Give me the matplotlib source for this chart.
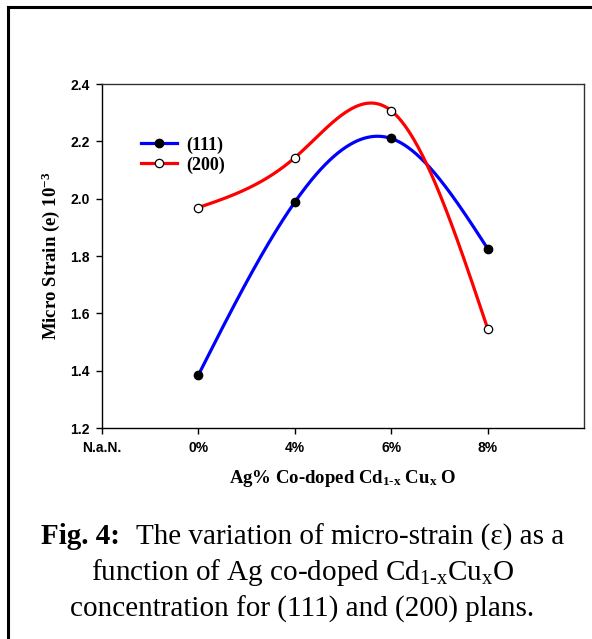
import numpy as np
import matplotlib
matplotlib.use("Agg")
from matplotlib import pyplot as plt
from matplotlib.lines import Line2D

plt.rcParams["mathtext.fontset"] = "custom"
plt.rcParams["mathtext.rm"] = "Liberation Serif"
plt.rcParams["mathtext.bf"] = "Liberation Serif:bold"
plt.rcParams["mathtext.it"] = "Liberation Serif:italic"

# Ag doping levels, first slot is the undoped reference column
categories = ["N.a.N.", "0%", "4%", "6%", "8%"]
x_pos = [1, 2, 3, 4]
strain_111 = [1.385, 1.988, 2.210, 1.826]
strain_200 = [1.969, 2.143, 2.307, 1.547]
y_ticks = [1.2, 1.4, 1.6, 1.8, 2.0, 2.2, 2.4]


def natural_spline(x, y, n=200):
    # natural cubic spline through the measured points
    x = np.asarray(x, float)
    y = np.asarray(y, float)
    k = len(x)
    h = np.diff(x)
    a = np.zeros((k, k))
    b = np.zeros(k)
    a[0, 0] = a[-1, -1] = 1
    for i in range(1, k - 1):
        a[i, i - 1] = h[i - 1]
        a[i, i] = 2 * (h[i - 1] + h[i])
        a[i, i + 1] = h[i]
        b[i] = 3 * ((y[i + 1] - y[i]) / h[i] - (y[i] - y[i - 1]) / h[i - 1])
    c = np.linalg.solve(a, b)
    xs = np.linspace(x[0], x[-1], n)
    ys = np.empty_like(xs)
    for j, xv in enumerate(xs):
        i = min(np.searchsorted(x, xv, side="right") - 1, k - 2)
        dx = xv - x[i]
        bi = (y[i + 1] - y[i]) / h[i] - h[i] * (2 * c[i] + c[i + 1]) / 3
        di = (c[i + 1] - c[i]) / (3 * h[i])
        ys[j] = y[i] + bi * dx + c[i] * dx ** 2 + di * dx ** 3
    return xs, ys


fig = plt.figure(figsize=(5.92, 6.39), dpi=100)
ax = fig.add_axes([0.1723, 0.3302, 0.8142, 0.5383])

sx, sy = natural_spline(x_pos, strain_111)
ax.plot(sx, sy, color="#0000ff", lw=2.3, zorder=2)
sx, sy = natural_spline(x_pos, strain_200)
ax.plot(sx, sy, color="#ff0000", lw=2.3, zorder=2)
ax.plot(x_pos, strain_111, "o", ms=6, mfc="black", mec="black", zorder=3)
ax.plot(x_pos, strain_200, "o", ms=6, mfc="white", mec="black", mew=0.9, zorder=3)

ax.set_xlim(0, 5)
ax.set_ylim(1.2, 2.4)
ax.set_xticks(range(len(categories)))
ax.set_xticklabels(categories)
ax.set_yticks(y_ticks)
ax.set_yticklabels(["%.1f" % v for v in y_ticks])
ax.tick_params(direction="out", length=4, width=1, pad=5)
for lab in ax.get_xticklabels() + ax.get_yticklabels():
    lab.set_fontfamily("Liberation Sans")
    lab.set_fontweight("bold")
    lab.set_fontsize(10)
for s in ax.spines.values():
    s.set_linewidth(1)
ax.spines["top"].set_color("#333333")
ax.spines["right"].set_color("#333333")

ax.set_xlabel(r"Ag% Co-doped Cd$_{\mathbf{1\text{-}x}}$ Cu$_{\mathbf{x}}$ O",
              fontfamily="Liberation Serif", fontweight="bold", fontsize=13.5, labelpad=10)
ax.set_ylabel(r"Micro Strain (e) 10$^{\mathbf{-3}}$",
              fontfamily="Liberation Serif", fontweight="bold", fontsize=13.5, labelpad=6)

handles = [
    Line2D([], [], color="#0000ff", lw=2.3, marker="o", ms=6, mfc="black", mec="black"),
    Line2D([], [], color="#ff0000", lw=2.3, marker="o", ms=6, mfc="white", mec="black", mew=0.9),
]
ax.legend(handles, ["(111)", "(200)"], loc="upper left", bbox_to_anchor=(0.047, 0.895),
          frameon=False, handlelength=2.0, handletextpad=0.5, labelspacing=0.15,
          prop={"family": "Liberation Serif", "weight": "bold", "size": 13})

# page frame around the figure
fig.add_artist(Line2D([7.5 / 592, 7.5 / 592], [1 - 6.5 / 639, 0], color="black", lw=2.2,
                      transform=fig.transFigure))
fig.add_artist(Line2D([7.5 / 592, 1], [1 - 6.5 / 639, 1 - 6.5 / 639], color="black", lw=2.2,
                      transform=fig.transFigure))

cap = {"va": "center", "fontfamily": "Liberation Serif", "fontsize": 21}
cx = 0.511
# first caption line: bold figure number followed by regular text
t_bold = fig.text(0, 1 - 537 / 639, "Fig. 4:", fontweight="bold", ha="left", **cap)
t_rest = fig.text(0, 1 - 537 / 639, "The variation of micro-strain (ε) as a", ha="left", **cap)
r = fig.canvas.get_renderer()
w1 = t_bold.get_window_extent(r).width
w2 = t_rest.get_window_extent(r).width
gap = 16
x0 = cx * 592 - (w1 + gap + w2) / 2
t_bold.set_x(x0 / 592)
t_rest.set_x((x0 + w1 + gap) / 592)

fig.text(cx, 1 - 573 / 639, r"function of Ag co-doped Cd$_{\mathrm{1\text{-}x}}$Cu$_{\mathrm{x}}$O",
         ha="center", **cap)
fig.text(cx, 1 - 609 / 639, "concentration for (111) and (200) plans.", ha="center", **cap)

fig.savefig("out.png", dpi=100)
